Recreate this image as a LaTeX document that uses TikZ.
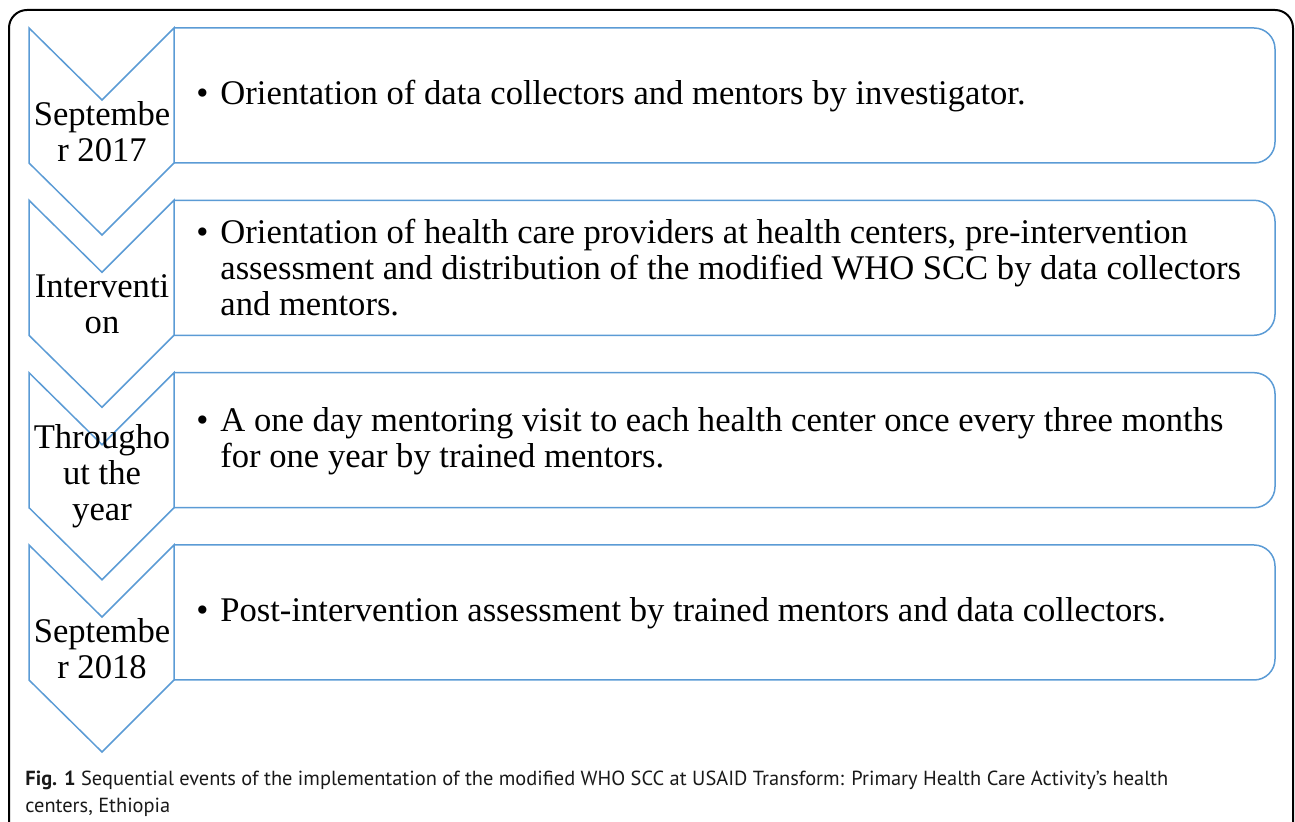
\documentclass[tikz,border=0pt]{standalone}
\usepackage{fontspec}
\setmainfont{Liberation Serif}
\newfontfamily\capfont{PT Sans}
\definecolor{chevblue}{RGB}{91,155,213}

\begin{document}
\begin{tikzpicture}[x=0.5pt,y=-0.5pt,
    blueline/.style={draw=chevblue,line width=0.75pt},
    monthtext/.style={align=center,inner sep=0pt,font=\fontsize{17.3}{18}\selectfont},
    eventtext/.style={anchor=west,align=left,inner sep=0pt,font=\fontsize{17.3}{18}\selectfont},
    captext/.style={anchor=base west,inner sep=0pt,text=black!90,font=\capfont\fontsize{10.2}{13.5}\selectfont}]
  \useasboundingbox (0,0) rectangle (1295,822);
  \draw[line width=1pt,rounded corners=9pt] (9,840) -- (9,10) -- (1293,10) -- (1293,840);
  \foreach \ty in {28,200.3,372.7,545}{
    \draw[blueline] (29,\ty) -- (102,\ty+72) -- (174,\ty) -- (174,\ty+135)
      -- (102,\ty+207) -- (29,\ty+135) -- cycle;
    \draw[blueline] (174,\ty) -- (1254,\ty) arc[start angle=90,end angle=0,radius=10.5pt]
      -- (1275,\ty+114) arc[start angle=0,end angle=-90,radius=10.5pt] -- (174,\ty+135);
  }
  \node[monthtext] (month1) at (102,131.5) {Septembe\\r 2017};
  \node[monthtext] (month2) at (102,303.8) {Interventi\\on};
  \node[monthtext] (month3) at (102,476.2) {Througho\\ut the\\year};
  \node[monthtext] (month4) at (102,648.5) {Septembe\\r 2018};
  \node[eventtext] (event1) at (196,96.5) {\makebox[12pt][l]{•}Orientation of data collectors and mentors by investigator.};
  \node[eventtext] (event2) at (196,267.8) {\makebox[12pt][l]{•}Orientation of health care providers at health centers, pre-intervention\\
    \hspace*{12pt}assessment and distribution of the modified WHO SCC by data collectors\\
    \hspace*{12pt}and mentors.};
  \node[eventtext] (event3) at (196,441.2) {\makebox[12pt][l]{•}A one day mentoring visit to each health center once every three months\\
    \hspace*{12pt}for one year by trained mentors.};
  \node[eventtext] (event4) at (196,613.5) {\makebox[12pt][l]{•}Post-intervention assessment by trained mentors and data collectors.};
  \node[captext] (cap1) at (25,785) {\textbf{Fig. 1} Sequential events of the implementation of the modified WHO SCC at USAID Transform: Primary Health Care Activity’s health};
  \node[captext] (cap2) at (25,812) {centers, Ethiopia};
\end{tikzpicture}
\end{document}
